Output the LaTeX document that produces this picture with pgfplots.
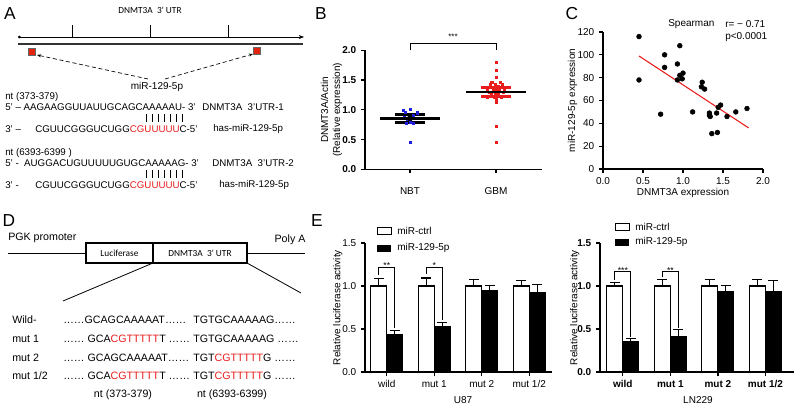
\documentclass[border=0pt]{standalone}
\usepackage{fontspec}
\setmainfont{Liberation Sans}
\newfontfamily\calfont{Carlito}
\usepackage{pgfplots}
\pgfplotsset{compat=1.18}
\usetikzlibrary{arrows.meta}
\definecolor{sred}{RGB}{232,28,28}
\definecolor{sqred}{RGB}{225,35,15}
\definecolor{dblue}{RGB}{30,30,220}
\newcommand{\fs}{\fontsize{7.5}{9}\selectfont}
\newcommand{\fa}{\fontsize{7.3}{9}\selectfont}
\newcommand{\fd}{\fontsize{8}{9.6}\selectfont}
\newcommand{\fL}{\fontsize{13}{13}\selectfont}
\newcommand{\rd}[1]{\textcolor{sred}{#1}}
\pgfplotsset{gp/.style={scale only axis, axis x line*=bottom, axis y line*=left,
  axis line style={line width=1.1pt}, tick style={line width=0.9pt, black},
  tick align=outside, major tick length=3pt, tick label style={font=\fs},
  label style={font=\fs}, /pgf/number format/assume math mode=true, clip=false,
  yticklabel style={/pgf/number format/fixed, /pgf/number format/fixed zerofill, /pgf/number format/precision=1}},
  eb/.style={error bars/.cd, y dir=plus, y explicit, error bar style={line width=0.8pt, black},
  error mark=|, error mark options={black, mark size=3.75pt, line width=0.8pt}}}
\begin{document}
\begin{tikzpicture}
\useasboundingbox (0,0) rectangle (600pt,-305.25pt);
\begin{scope}[x=0.75pt,y=-0.75pt]
% ---------- panel letters
\node[font=\fL] at (10,14) {A};
\node[font=\fL] at (321,14) {B};
\node[font=\fL] at (572,14) {C};
\node[font=\fL] at (9,221) {D};
\node[font=\fL] at (317,221) {E};
% ---------- panel A
\node[font=\calfont\fontsize{7}{8}\selectfont] at (150,10) {DNMT3A\ \ 3' UTR};
\draw[line width=0.5pt,{Circle[length=2pt]}-{Stealth[length=4pt]}] (18,37) -- (304,37);
\foreach \t in {72,150,228} \draw[line width=0.6pt] (\t,25) -- (\t,37);
\draw[line width=0.9pt, black!80] (18,44) -- (303,44);
\filldraw[fill=sqred, draw=black!60, line width=0.4pt] (28.5,48.5) rectangle (35.5,55.5);
\filldraw[fill=sqred, draw=black!60, line width=0.4pt] (253.5,47.5) rectangle (260.5,54.5);
\draw[densely dashed, line width=0.5pt, -{Stealth[length=3pt]}] (148,79) -- (37,55);
\draw[densely dashed, line width=0.5pt, -{Stealth[length=3pt]}] (165,79) -- (253,54);
\node[font=\fs] at (157,87) {miR-129-5p};
\begin{scope}[every node/.style={font=\fa, anchor=west, inner sep=0pt}]
\node at (5,97) {nt (373-379)};
\node at (5,107) {5' – AAGAAGGUUAUUGCAGCAAAAAU- 3'};
\node at (202,107) {DNMT3A\ \ 3'UTR-1};
\node at (5,129) {3' –};
\node at (35,129) {CGUUCGGGUCUGG\rd{CGUUUUU}C-5'};
\node at (213,129) {has-miR-129-5p};
\node at (5,153) {nt (6393-6399 )};
\node at (5,163) {5' -\ \ AUGGACUGUUUUUGUGCAAAAAG- 3'};
\node at (212,163) {DNMT3A\ \ 3'UTR-2};
\node at (5,185) {3' -};
\node at (35,185) {CGUUCGGGUCUGG\rd{CGUUUUU}C-5'};
\node at (219,185) {has-miR-129-5p};
\end{scope}
\foreach \i in {0,...,6} {
  \draw[line width=0.45pt] ({146+\i*6.1},114) -- ({146+\i*6.1},122);
  \draw[line width=0.45pt] ({146+\i*6.1},170) -- ({146+\i*6.1},178);
}
% ---------- panel D
\node[font=\fd, anchor=west, inner sep=0pt] at (8,238) {PGK promoter};
\draw[line width=0.7pt] (8,253) -- (86,253);
\draw[line width=0.8pt] (86,243) rectangle (153,263);
\draw[line width=0.8pt] (153,243) rectangle (247,263);
\node[font=\calfont\fontsize{7}{8}\selectfont] at (119.5,253) {Luciferase};
\node[font=\calfont\fontsize{7}{8}\selectfont] at (200,253) {DNMT3A\ \ 3' UTR};
\draw[line width=0.7pt] (247,253) -- (305,253);
\node[font=\fd] at (290,240) {Poly A};
\draw[line width=0.6pt] (153,263) -- (63,301);
\draw[line width=0.6pt] (247,263) -- (301,293);
\begin{scope}[every node/.style={font=\fd, anchor=west, inner sep=0pt}]
\node at (12,320) {Wild-};
\node at (12,339) {mut 1};
\node at (12,357.5) {mut 2};
\node at (12,376) {mut 1/2};
\node at (63,320) {……GCAGCAAAAAT……};
\node at (193,320) {TGTGCAAAAAG……};
\node at (63,339) {…… GCA\rd{CGTTTTT}T ……};
\node at (193,339) {TGTGCAAAAAG ……};
\node at (63,357.5) {…… GCAGCAAAAAT……};
\node at (193,357.5) {TGT\rd{CGTTTTT}G ……};
\node at (63,376) {…… GCA\rd{CGTTTTT}T ……};
\node at (193,376) {TGT\rd{CGTTTTT}G ……};
\end{scope}
\node[font=\fd] at (123,395) {nt (373-379)};
\node[font=\fd] at (232,395) {nt (6393-6399)};
% ---------- C annotation
\begin{scope}[every node/.style={font=\fs, anchor=west, inner sep=0pt}]
\node at (668,24) {Spearman};
\node at (725,24) {r= − 0.71};
\node at (725,37) {p<0.0001};
\end{scope}
% ---------- E legends
\draw[line width=0.7pt, fill=white] (377,227.5) rectangle (391,234.5);
\fill (377,244.5) rectangle (391,251.5);
\node[font=\fs, anchor=west, inner sep=0pt] at (397,231) {miR-ctrl};
\node[font=\fs, anchor=west, inner sep=0pt] at (397,248) {miR-129-5p};
\draw[line width=0.7pt, fill=white] (615,223.5) rectangle (629,230.5);
\fill (615,238.5) rectangle (629,245.5);
\node[font=\fs, anchor=west, inner sep=0pt] at (635,227) {miR-ctrl};
\node[font=\fs, anchor=west, inner sep=0pt] at (635,242) {miR-129-5p};
\end{scope}

% ================= panel B
\begin{axis}[gp, at={(273.75pt,-127pt)}, anchor=south west,
  width=132.5pt, height=89.25pt, xmin=0.477, xmax=2.53, ymin=0, ymax=2,
  xtick={1,2}, xticklabels={NBT,GBM}, xticklabel style={yshift=-7pt},
  ytick={0,0.5,1,1.5,2},
  yticklabel style={font=\bfseries\fs},
  ylabel={DNMT3A/Actin\\(Relative expression)},
  ylabel style={align=center, at={(axis description cs:-0.19,0.5)}, anchor=center}]
\addplot[only marks, mark=square*, mark size=0.8pt, dblue] coordinates {
(0.92,0.99) (1.00,1.01) (1.08,0.95) (0.94,0.96) (1.04,0.91) (0.93,0.88)
(1.06,0.86) (0.97,0.84) (0.96,0.77) (1.04,0.77) (1.00,0.80) (1.00,0.45)};
\addplot[only marks, mark=square*, mark size=0.8pt, sred] coordinates {
(2.00,1.80) (2.00,1.66) (2.00,1.55) (1.95,1.47) (2.05,1.47) (1.93,1.43)
(1.99,1.43) (2.07,1.43) (1.94,1.38) (2.02,1.39) (1.90,1.34) (1.97,1.35)
(2.04,1.34) (2.10,1.33) (1.92,1.30) (2.00,1.31) (2.08,1.29) (1.94,1.26)
(2.03,1.26) (1.90,1.22) (1.98,1.22) (2.06,1.22) (2.00,1.18) (2.00,1.12)
(2.00,0.72) (2.00,0.45)};
\addplot[black, only marks, mark=none,
  error bars/.cd, y dir=both, y explicit, error bar style={line width=3pt, black},
  error mark=|, error mark options={black, mark size=11pt, line width=2.2pt}]
  coordinates {(1,0.857) +- (0,0.072)};
\addplot[black, mark=-, mark size=22.5pt, mark options={line width=1.8pt}, only marks]
  coordinates {(1,0.857)};
\addplot[sred, only marks, mark=none,
  error bars/.cd, y dir=both, y explicit, error bar style={line width=3pt, sred},
  error mark=|, error mark options={sred, mark size=11.5pt, line width=2.2pt}]
  coordinates {(2,1.30) +- (0,0.08)};
\addplot[black, mark=-, mark size=22.5pt, mark options={line width=1.8pt}, only marks]
  coordinates {(2,1.30)};
\draw[line width=0.7pt] (axis cs:1,2.0) -- (axis cs:1,2.12) -- (axis cs:2,2.12) -- (axis cs:2,2.0);
\node[font=\fontsize{6}{6}\selectfont, anchor=base] at (axis cs:1.5,2.19) {***};
\end{axis}

% ================= panel C
\begin{axis}[gp, at={(452.25pt,-126.75pt)}, anchor=south west,
  width=120pt, height=102.75pt, xmin=0, xmax=2, ymin=0, ymax=120,
  xtick={0,0.5,1,1.5,2}, ytick={0,20,...,120},
  xticklabel style={/pgf/number format/fixed, /pgf/number format/fixed zerofill, /pgf/number format/precision=1},
  yticklabel style={/pgf/number format/precision=0},
  xlabel={DNMT3A expression}, ylabel={miR-129-5p expression},
  xlabel style={at={(axis description cs:0.5,-0.175)}, anchor=center},
  ylabel style={at={(axis description cs:-0.19,0.5)}, anchor=center}]
\addplot[only marks, mark=*, mark size=1.8pt, black] coordinates {
(0.45,116) (0.45,78) (0.72,48) (0.77,100) (0.77,89) (0.93,92) (0.96,108)
(0.93,78) (0.96,82) (0.99,79) (1.00,84) (1.12,50) (1.23,72) (1.24,76)
(1.27,70) (1.33,49) (1.33,47) (1.34,46) (1.36,31) (1.43,32) (1.42,49)
(1.44,54) (1.47,56) (1.55,46) (1.66,50) (1.80,53)};
\addplot[sred, line width=0.8pt, mark=none] coordinates {(0.45,99) (1.82,36)};
\end{axis}

% ================= panel E1 (U87)
\begin{axis}[gp, at={(273.75pt,-279pt)}, anchor=south west,
  width=140.25pt, height=96.75pt, xmin=0.54, xmax=4.48, ymin=0, ymax=1.5,
  ybar=0pt, bar width=0.337,
  xtick={1,2,3,4}, xticklabels={wild,mut 1,mut 2,mut 1/2},
  ytick={0,0.5,1,1.5},
  xlabel={U87}, ylabel={Relative luciferase activity},
  xlabel style={at={(axis description cs:0.524,-0.217)}, anchor=center},
  ylabel style={at={(axis description cs:-0.145,0.5)}, anchor=center}]
\addplot[fill=white, draw=black, line width=0.8pt, eb]
  coordinates {(1,1.0) +- (0,0.085) (2,1.0) +- (0,0.093) (3,1.0) +- (0,0.081) (4,1.0) +- (0,0.066)};
\addplot[fill=black, draw=black, line width=0.8pt, eb]
  coordinates {(1,0.44) +- (0,0.045) (2,0.523) +- (0,0.055) (3,0.946) +- (0,0.062) (4,0.926) +- (0,0.089)};
\draw[line width=0.7pt] (axis cs:0.8315,1.13) -- (axis cs:0.8315,1.22) -- (axis cs:1.1685,1.22) -- (axis cs:1.1685,0.51);
\draw[line width=0.7pt] (axis cs:1.8315,1.14) -- (axis cs:1.8315,1.22) -- (axis cs:2.1685,1.22) -- (axis cs:2.1685,0.61);
\node[font=\fontsize{6.5}{6.5}\selectfont, anchor=base] at (axis cs:1,1.20) {**};
\node[font=\fontsize{6.5}{6.5}\selectfont, anchor=base] at (axis cs:2,1.20) {*};
\end{axis}

% ================= panel E2 (LN229)
\begin{axis}[gp, at={(450pt,-279pt)}, anchor=south west,
  width=145.5pt, height=96.75pt, xmin=0.52, xmax=4.6, ymin=0, ymax=1.5,
  ybar=0pt, bar width=0.337,
  xtick={1,2,3,4}, xticklabels={wild,mut 1,mut 2,mut 1/2},
  ytick={0,0.5,1,1.5},
  tick label style={font=\bfseries\fs},
  xlabel={LN229}, ylabel={Relative luciferase activity},
  xlabel style={at={(axis description cs:0.505,-0.217)}, anchor=center},
  ylabel style={at={(axis description cs:-0.13,0.5)}, anchor=center}]
\addplot[fill=white, draw=black, line width=0.8pt, eb]
  coordinates {(1,1.0) +- (0,0.043) (2,1.0) +- (0,0.074) (3,1.0) +- (0,0.074) (4,1.0) +- (0,0.081)};
\addplot[fill=black, draw=black, line width=0.8pt, eb]
  coordinates {(1,0.357) +- (0,0.031) (2,0.415) +- (0,0.077) (3,0.93) +- (0,0.074) (4,0.938) +- (0,0.124)};
\draw[line width=0.7pt] (axis cs:0.8315,1.07) -- (axis cs:0.8315,1.17) -- (axis cs:1.1685,1.17) -- (axis cs:1.1685,0.41);
\draw[line width=0.7pt] (axis cs:1.8315,1.10) -- (axis cs:1.8315,1.17) -- (axis cs:2.1685,1.17) -- (axis cs:2.1685,0.51);
\node[font=\fontsize{6.5}{6.5}\selectfont, anchor=base] at (axis cs:1,1.15) {***};
\node[font=\fontsize{6.5}{6.5}\selectfont, anchor=base] at (axis cs:2,1.15) {**};
\end{axis}
\end{tikzpicture}
\end{document}
